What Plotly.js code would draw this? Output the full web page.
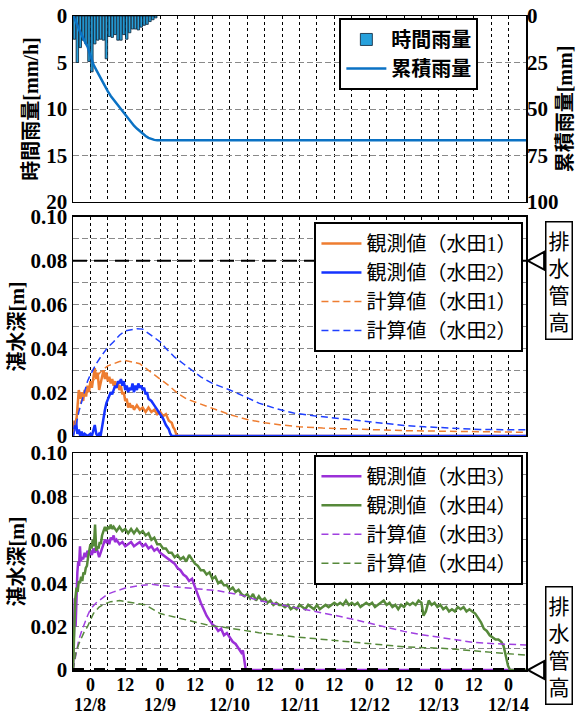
<!DOCTYPE html>
<html><head><meta charset="utf-8">
<script src="https://cdn.plot.ly/plotly-3.0.1.min.js"></script>
<style>html,body{margin:0;padding:0;background:#fff}#chart{width:576px;height:716px}</style>
</head><body><div id="chart"></div><script>
// hours since 12/8 00:00
const dateLabels = ['12/8','12/9','12/10','12/11','12/12','12/13','12/14'];
const dateHours = [0,24,48,72,96,120,144];
const tickHours = [-6,0,6,12,18,24,30,36,42,48,54,60,66,72,78,84,90,96,102,108,114,120,126,132,138,144,150];

// hourly rainfall (bar centres) [mm/h]
const rainT = [-5.5,-4.5,-3.5,-2.5,-1.5,-0.5,0.5,1.5,2.5,3.5,4.5,5.5,6.5,7.5,8.5,9.5,10.5,11.5,12.5,13.5,14.5,15.5,16.5,17.5,18.5,19.5,20.5,21.5,22.5];
const rainV = [2.5,5.0,3.4,2.6,3.0,4.9,6.0,3.0,2.6,2.5,2.6,4.6,2.2,2.3,2.0,2.6,2.6,2.0,2.5,1.8,1.4,1.4,1.5,1.2,1.0,0.9,0.6,0.4,0.2];
// cumulative rainfall [mm]
const cumT = [-6,-5,-4,-3,-2,-1,0,1,2,3,4,5,6,7,8,9,10,11,12,13,14,15,16,17,18,19,20,21,22,23,150];
const cumV = [0,3,7,10.5,13.5,16.5,21,26,29,32,35,37.5,40.5,43,45,47,49.5,51.5,53.5,55.5,57.5,59,60.5,62,63.5,64.5,65.5,66.2,66.6,66.8,66.8];

// paddy 1 observed
const obs1T = [-6,-5.5,-5,-4.5,-4,-3.5,-3,-2.5,-2,-1.5,-1,-0.5,0,0.5,1,1.5,2,2.5,3,3.5,4,4.5,5,5.5,6,6.5,7,7.5,8,8.5,9,9.5,10,10.5,11,11.5,12,12.5,13,13.5,14,14.5,15,16,17,18,19,20,21,22,23,24,25,26,27,28,28.5,29,29.5,30,150];
const obs1V = [0,0.007,0.004,0.015,0.021,0.017,0.02,0.016,0.021,0.018,0.023,0.02,0.025,0.022,0.028,0.031,0.026,0.029,0.021,0.024,0.027,0.03,0.026,0.029,0.025,0.027,0.024,0.026,0.023,0.025,0.022,0.024,0.021,0.023,0.019,0.02,0.016,0.017,0.013,0.015,0.013,0.014,0.012,0.014,0.012,0.013,0.011,0.013,0.011,0.012,0.01,0.011,0.009,0.01,0.007,0.006,0.004,0.003,0.001,0,0];
// paddy 2 observed
const obs2T = [-6,-5.5,-5,-4.5,-4,-3.5,-3,-2.5,-2,-1,0,0.5,1,1.5,2,2.5,3,3.5,4,4.5,5,5.5,6,6.5,7,7.5,8,8.5,9,9.5,10,10.5,11,11.5,12,12.5,13,13.5,14,14.5,15,15.5,16,16.5,17,17.5,18,18.5,19,19.5,20,21,22,23,24,25,26,27,27.5,28,150];
const obs2V = [0,0.003,0.007,0.001,0.003,0,0.002,0,0.001,0,0.001,0,0.002,0.005,0.001,0,0.001,0,0.004,0.009,0.012,0.015,0.017,0.018,0.02,0.019,0.021,0.023,0.022,0.025,0.024,0.026,0.023,0.025,0.021,0.023,0.02,0.022,0.021,0.024,0.02,0.023,0.021,0.024,0.022,0.023,0.021,0.022,0.019,0.02,0.017,0.016,0.014,0.012,0.01,0.008,0.005,0.003,0.001,0,0];
// paddy 1 / 2 calculated
const calc1T = [-6,-5,-4,-3,-2,-1,0,1,2,4,6,8,10,12,14,17,20,23,25,27,30,33,36,40,44,48,54,60,66,72,80,90,100,110,120,130,140,150];
const calc1V = [0,0.0075,0.013,0.017,0.02,0.022,0.024,0.0255,0.027,0.03,0.032,0.033,0.034,0.0345,0.034,0.033,0.03,0.027,0.025,0.023,0.0195,0.017,0.0155,0.0135,0.0115,0.0098,0.0075,0.006,0.005,0.0042,0.0036,0.0031,0.0027,0.0024,0.0022,0.002,0.0018,0.0017];
const calc2T = [-6,-5,-4,-3,-2,-1,0,2,4,6,8,10,12,14,16,18,20,22,24,26,29,32,35,38,42,48,54,58,64,70,77,83,90,96,102,108,115,121,128,134,142,150];
const calc2V = [0,0.0045,0.011,0.016,0.021,0.025,0.028,0.033,0.037,0.0405,0.043,0.046,0.048,0.0485,0.049,0.0488,0.047,0.045,0.043,0.04,0.036,0.033,0.03,0.027,0.024,0.021,0.0175,0.015,0.0125,0.0105,0.0092,0.0083,0.0072,0.0063,0.0055,0.0048,0.0042,0.0038,0.0034,0.003,0.0029,0.0028];

// paddy 3 observed
const obs3T = [-6,-5.7,-5.4,-5.1,-4.8,-4.5,-4.2,-3.9,-3.6,-3.3,-3,-2.5,-2,-1.5,-1,-0.5,0,0.5,1,1.5,2,2.5,3,3.5,4,4.5,5,5.5,6,6.5,7,7.5,8,8.5,9,10,11,12,13,14,15,16,17,18,19,20,21,22,23,24,25,26,27,28,29,30,31,32,33,34,35,35.5,36,37,38,39,40,41,42,43,44,45,46,47,48,49,50,51,52,52.5,53,53.5,150];
const obs3V = [0,0.015,0.033,0.02,0.038,0.045,0.05,0.048,0.057,0.05,0.052,0.051,0.054,0.052,0.055,0.053,0.055,0.053,0.056,0.054,0.057,0.055,0.052,0.054,0.056,0.058,0.06,0.059,0.06,0.058,0.061,0.06,0.062,0.059,0.06,0.058,0.059,0.057,0.058,0.059,0.057,0.058,0.059,0.057,0.058,0.056,0.057,0.055,0.056,0.054,0.053,0.052,0.051,0.05,0.049,0.047,0.046,0.044,0.043,0.041,0.042,0.04,0.038,0.035,0.031,0.028,0.025,0.023,0.021,0.02,0.018,0.019,0.016,0.017,0.015,0.013,0.012,0.01,0.008,0.009,0.005,0,0];
// paddy 4 observed
const obs4T = [-6,-5.8,-5.5,-5.2,-4.8,-4.4,-4,-3.6,-3.2,-2.8,-2.4,-2,-1.6,-1.2,-0.8,-0.4,0,0.4,0.8,1.2,1.6,2,2.4,2.8,3.2,3.6,4,4.5,5,5.5,6,6.5,7,7.5,8,9,10,11,12,13,14,15,16,17,18,19,20,21,22,23,24,25,26,27,28,29,30,31,32,33,34,35,36,37,38,39,40,41,42,43,44,45,46,47,48,49,50,51,52,53,54,55,56,57,58,59,60,61,62,63,64,65,66,67,68,69,70,71,72,73,74,75,76,77,78,79,80,81,82,83,84,85,86,87,88,89,90,91,92,93,94,95,96,97,98,99,100,101,102,103,104,105,106,107,108,109,110,111,112,113,114,114.7,115.5,116.5,117.5,118.5,119.5,120.5,121.5,122.5,123.5,124.5,125.5,126.5,127.5,128.5,129.5,130.5,131.5,132.5,133.5,134.5,135.5,136.5,137.5,138.5,139.5,140.5,141.5,142.3,142.8,143.3,143.8,144.5,150];
const obs4V = [0,0.01,0.025,0.033,0.038,0.036,0.041,0.04,0.043,0.041,0.045,0.044,0.047,0.048,0.052,0.055,0.058,0.056,0.06,0.057,0.067,0.055,0.057,0.056,0.059,0.058,0.062,0.064,0.066,0.064,0.066,0.065,0.067,0.065,0.066,0.064,0.066,0.064,0.065,0.063,0.065,0.063,0.065,0.063,0.064,0.062,0.063,0.06,0.061,0.058,0.058,0.056,0.056,0.054,0.054,0.052,0.053,0.051,0.052,0.05,0.053,0.051,0.049,0.048,0.046,0.046,0.044,0.045,0.042,0.043,0.04,0.041,0.039,0.039,0.037,0.038,0.036,0.037,0.035,0.034,0.035,0.033,0.035,0.032,0.034,0.032,0.033,0.031,0.032,0.03,0.031,0.03,0.03,0.029,0.03,0.028,0.029,0.028,0.03,0.029,0.028,0.03,0.029,0.028,0.03,0.028,0.029,0.03,0.029,0.03,0.031,0.03,0.031,0.03,0.032,0.03,0.031,0.03,0.031,0.029,0.03,0.031,0.03,0.031,0.029,0.03,0.031,0.032,0.03,0.031,0.029,0.03,0.028,0.03,0.029,0.031,0.03,0.031,0.03,0.032,0.031,0.025,0.027,0.032,0.03,0.031,0.029,0.03,0.028,0.029,0.027,0.028,0.027,0.029,0.028,0.029,0.027,0.028,0.027,0.026,0.024,0.022,0.019,0.018,0.016,0.015,0.014,0.014,0.013,0.011,0.008,0.004,0.002,0,0];
// paddy 3 / 4 calculated
const calc3T = [-6,-5,-4,-3,-2,-1,0,2,4,6,8,10,12,15,18,21,24,28,32,36,40,44,48,52,58,64,70,76,83,90,96,102,108,114,120,126,132,138,144,150];
const calc3V = [0,0.008,0.014,0.018,0.022,0.025,0.028,0.031,0.033,0.035,0.036,0.037,0.0378,0.0385,0.039,0.0395,0.039,0.0385,0.038,0.0375,0.037,0.0365,0.0355,0.0345,0.032,0.0305,0.029,0.0275,0.0255,0.0235,0.0215,0.0195,0.0178,0.0163,0.015,0.0138,0.0127,0.0122,0.0118,0.0115];
const calc4T = [-6,-5,-4,-3,-2,-1,0,1,3,5,7,10,12,15,19,24,30,35,41,47,54,58,64,70,77,83,90,96,102,108,115,121,128,134,142,150];
const calc4V = [0,0.008,0.012,0.015,0.018,0.02,0.023,0.026,0.029,0.0305,0.0315,0.032,0.0315,0.031,0.03,0.026,0.024,0.0225,0.0205,0.0195,0.018,0.0172,0.0163,0.0153,0.0145,0.0138,0.013,0.0123,0.0115,0.0107,0.0103,0.01,0.0093,0.0085,0.0077,0.0069];

// drain pipe heights [m]
const drainH12 = 0.08;
const drainH34 = 0;

const serif = "'Liberation Serif','Noto Sans CJK JP',serif";
const cjk = "'Noto Sans CJK JP','Liberation Serif',sans-serif";

const hourText = tickHours.map(h => {
  const m = ((h % 24) + 24) % 24;
  if (m === 0) return '0';
  if (m === 12) return '12';
  return '';
});

const tickFont = {family: serif, size: 21, color: '#000', weight: 'bold'};
const xTickFont = {family: serif, size: 18, color: '#000', weight: 'bold'};
const titleFont = {family: serif, size: 20, color: '#000', weight: 'bold'};

const dom1 = [0.7156, 1], dom2 = [0.3578, 0.6927], dom3 = [0, 0.3318];
const depthRange = [0, 0.1];

const xBase = {
  range: [-6, 150], tickmode: 'array', tickvals: tickHours, ticktext: hourText,
  showgrid: true, gridcolor: '#000', griddash: '3px,3px', gridwidth: 1,
  showline: true, mirror: true, linecolor: '#000', linewidth: 1.5,
  ticks: '', zeroline: false, showticklabels: false, tickfont: xTickFont
};
const depthTicks = [0,0.01,0.02,0.03,0.04,0.05,0.06,0.07,0.08,0.09,0.1];
const depthText = ['0','','0.02','','0.04','','0.06','','0.08','','0.10'];
const yDepth = {
  range: depthRange, tickmode: 'array', tickvals: depthTicks, ticktext: depthText,
  showgrid: true, gridcolor: '#8a8a8a', griddash: '6px,3px', gridwidth: 1,
  showline: true, mirror: true, linecolor: '#000', linewidth: 1.5,
  ticks: '', zeroline: false, tickfont: tickFont,
  title: {text: '湛水深[m]', font: titleFont, standoff: 0}
};

const lineDash = '7px,4px';
const traces = [
  {type: 'bar', x: rainT, y: rainV, xaxis: 'x', yaxis: 'y', name: '時間雨量', width: 0.85,
   marker: {color: '#27a1dc', line: {color: '#0b1f33', width: 0.8}}, legend: 'legend'},
  {type: 'scatter', mode: 'lines', x: cumT, y: cumV, xaxis: 'x', yaxis: 'y4', name: '累積雨量',
   line: {color: '#0b72c4', width: 2.5}, legend: 'legend'},

  {type: 'scatter', mode: 'lines', x: obs1T, y: obs1V, xaxis: 'x2', yaxis: 'y2', name: '観測値（水田1）',
   line: {color: '#ee7d31', width: 2.5}, legend: 'legend2'},
  {type: 'scatter', mode: 'lines', x: obs2T, y: obs2V, xaxis: 'x2', yaxis: 'y2', name: '観測値（水田2）',
   line: {color: '#1533ff', width: 2.5}, legend: 'legend2'},
  {type: 'scatter', mode: 'lines', x: calc1T, y: calc1V, xaxis: 'x2', yaxis: 'y2', name: '計算値（水田1）',
   line: {color: '#ee7d31', width: 1.5, dash: lineDash}, legend: 'legend2'},
  {type: 'scatter', mode: 'lines', x: calc2T, y: calc2V, xaxis: 'x2', yaxis: 'y2', name: '計算値（水田2）',
   line: {color: '#2040ff', width: 1.5, dash: lineDash}, legend: 'legend2'},
  {type: 'scatter', mode: 'lines', x: [-6, 150], y: [drainH12, drainH12], xaxis: 'x2', yaxis: 'y2',
   showlegend: false, hoverinfo: 'skip', line: {color: '#000', width: 2, dash: '14px,7px'}},

  {type: 'scatter', mode: 'lines', x: obs3T, y: obs3V, xaxis: 'x3', yaxis: 'y3', name: '観測値（水田3）',
   line: {color: '#9b30d8', width: 2.5}, legend: 'legend3'},
  {type: 'scatter', mode: 'lines', x: obs4T, y: obs4V, xaxis: 'x3', yaxis: 'y3', name: '観測値（水田4）',
   line: {color: '#56893a', width: 2.5}, legend: 'legend3'},
  {type: 'scatter', mode: 'lines', x: calc3T, y: calc3V, xaxis: 'x3', yaxis: 'y3', name: '計算値（水田3）',
   line: {color: '#a040e0', width: 1.5, dash: lineDash}, legend: 'legend3'},
  {type: 'scatter', mode: 'lines', x: calc4T, y: calc4V, xaxis: 'x3', yaxis: 'y3', name: '計算値（水田4）',
   line: {color: '#56893a', width: 1.5, dash: lineDash}, legend: 'legend3'},
  {type: 'scatter', mode: 'lines', x: [-6, 150], y: [drainH34, drainH34], xaxis: 'x3', yaxis: 'y3',
   showlegend: false, hoverinfo: 'skip', cliponaxis: false, line: {color: '#000', width: 4, dash: '11px,10px'}}
];

const legendBase = {
  xanchor: 'left', yanchor: 'top', bgcolor: '#fff', bordercolor: '#000', borderwidth: 2,
  font: {family: serif, size: 20, color: '#000'}, itemwidth: 40, tracegroupgap: 0
};

// paper y of a depth value inside a panel domain
const toPaper = (v, dom) => dom[0] + (v - depthRange[0]) / (depthRange[1] - depthRange[0]) * (dom[1] - dom[0]);
const triPath = (py) => `M 1.04 ${py + 0.0135} L 1.004 ${py} L 1.04 ${py - 0.0135} Z`;
const shapes = [
  {type: 'path', xref: 'paper', yref: 'paper', path: triPath(toPaper(drainH12, dom2)),
   line: {color: '#000', width: 2}, fillcolor: 'rgba(0,0,0,0)'},
  {type: 'path', xref: 'paper', yref: 'paper', path: triPath(toPaper(drainH34, dom3)),
   line: {color: '#000', width: 2}, fillcolor: 'rgba(0,0,0,0)'}
];

const annotations = [
  {xref: 'paper', yref: 'paper', x: 1.073, y: 0.595, xanchor: 'center', yanchor: 'middle', showarrow: false,
   text: '排<br>水<br>管<br>高', bordercolor: '#000', borderwidth: 1.5, borderpad: 2, bgcolor: '#fff',
   font: {family: cjk, size: 21, color: '#000'}},
  {xref: 'paper', yref: 'paper', x: 1.073, y: 0.038, xanchor: 'center', yanchor: 'middle', showarrow: false,
   text: '排<br>水<br>管<br>高', bordercolor: '#000', borderwidth: 1.5, borderpad: 2, bgcolor: '#fff',
   font: {family: cjk, size: 21, color: '#000'}}
];
// date row under the hour labels
dateHours.forEach((h, i) => {
  annotations.push({xref: 'x3', yref: 'paper', x: h, y: -0.0535, xanchor: 'center', yanchor: 'middle',
    showarrow: false, text: dateLabels[i], font: xTickFont, borderpad: 0});
});

const layout = {
  width: 576, height: 716,
  margin: {l: 73, r: 50, t: 16, b: 46},
  paper_bgcolor: '#fff', plot_bgcolor: '#fff',
  showlegend: true,
  xaxis: Object.assign({}, xBase, {domain: [0, 1], anchor: 'y'}),
  xaxis2: Object.assign({}, xBase, {domain: [0, 1], anchor: 'y2'}),
  xaxis3: Object.assign({}, xBase, {domain: [0, 1], anchor: 'y3', showticklabels: true, ticklabelstandoff: -2}),
  yaxis: {domain: dom1, anchor: 'x', range: [20, 0], tickvals: [0, 5, 10, 15, 20],
    showgrid: true, gridcolor: '#8a8a8a', griddash: '6px,3px', gridwidth: 1,
    showline: true, mirror: true, linecolor: '#000', linewidth: 1.5, ticks: '', zeroline: false,
    tickfont: tickFont, title: {text: '時間雨量[mm/h]', font: titleFont, standoff: 2}},
  yaxis4: {overlaying: 'y', side: 'right', anchor: 'x', range: [100, 0], tickvals: [0, 25, 50, 75, 100],
    showgrid: false, showline: false, ticks: '', zeroline: false, tickfont: tickFont,
    title: {text: '累積雨量[mm]', font: titleFont, standoff: 0}},
  yaxis2: Object.assign({}, yDepth, {domain: dom2, anchor: 'x2'}),
  yaxis3: Object.assign({}, yDepth, {domain: dom3, anchor: 'x3'}),
  legend: Object.assign({}, legendBase, {x: 0.588, y: 0.997, entrywidth: 88,
    font: {family: serif, size: 20, color: '#000', weight: 'bold'}}),
  legend2: Object.assign({}, legendBase, {x: 0.533, y: 0.685}),
  legend3: Object.assign({}, legendBase, {x: 0.533, y: 0.329}),
  shapes: shapes,
  annotations: annotations
};

Plotly.newPlot('chart', traces, layout, {displayModeBar: false, staticPlot: true});
</script></body></html>
